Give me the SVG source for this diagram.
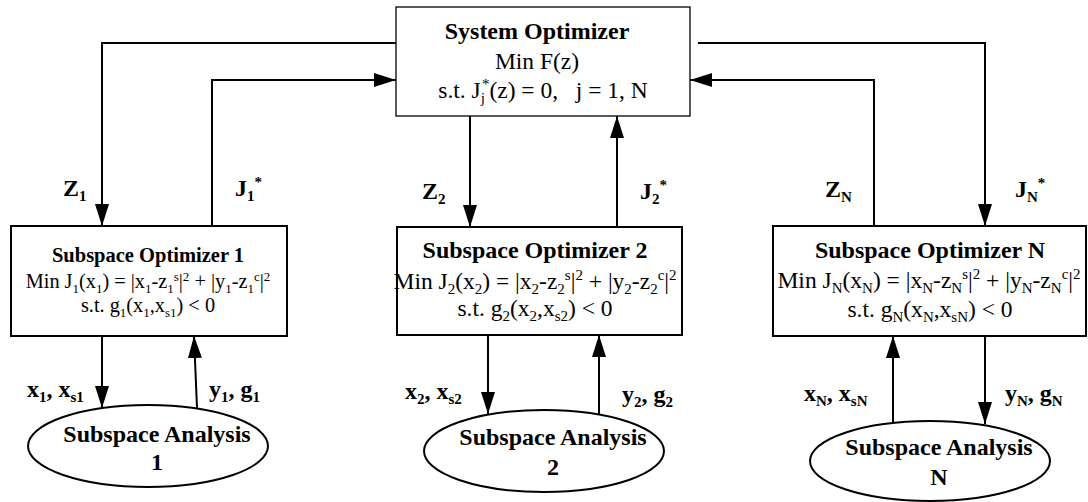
<svg xmlns="http://www.w3.org/2000/svg" width="1088" height="502" viewBox="0 0 1088 502" font-family="'Liberation Serif', 'Times New Roman', serif">
  <style>
    .box { fill: #fff; stroke: #000; stroke-width: 2; }
    .sys { fill: #fff; stroke: #000; stroke-width: 1.3; }
    .ell { fill: #fff; stroke: #000; stroke-width: 2; }
    .wire { fill: none; stroke: #000; stroke-width: 2; marker-end: url(#arrow); }
    text { font-family: "Liberation Serif", "Times New Roman", serif; fill: #000; }
    .r { font-size: 23.5px; }
    .r1 { font-size: 20.3px; }
    .b { font-size: 24px; font-weight: bold; }
    .b1 { font-size: 20.5px; font-weight: bold; }
    .lbl { font-size: 24px; font-weight: bold; }
    .s { font-size: 15px; }
    .s1 { font-size: 13px; }
  </style>
  <defs>
    <marker id="arrow" markerUnits="userSpaceOnUse" markerWidth="22" markerHeight="14" refX="22" refY="7" orient="auto">
      <path d="M0,0 L22,7 L0,14 Z" fill="#000"/>
    </marker>
  </defs>

  <!-- connectors -->
  <g id="connectors">
    <polyline class="wire" points="396,43 102,43 102,226"/>
    <polyline class="wire" points="212,226 212,80 396,80"/>
    <line class="wire" x1="470" y1="116" x2="470" y2="227"/>
    <line class="wire" x1="617" y1="227" x2="617" y2="116"/>
    <polyline class="wire" points="698,43 985,43 985,226"/>
    <polyline class="wire" points="874,226 874,80 690,80"/>

    <line class="wire" x1="102" y1="336" x2="102" y2="408"/>
    <line class="wire" x1="197" y1="408" x2="194" y2="336"/>
    <line class="wire" x1="488" y1="335" x2="488" y2="414"/>
    <line class="wire" x1="599" y1="414" x2="599" y2="335"/>
    <line class="wire" x1="893" y1="423" x2="893" y2="336"/>
    <line class="wire" x1="985" y1="336" x2="985" y2="424"/>
  </g>

  <!-- system level -->
  <g id="system-optimizer">
    <rect class="sys" x="396" y="7" width="294" height="109"/>
    <text class="b" x="537" y="39" text-anchor="middle">System Optimizer</text>
    <text class="r" x="537" y="69" text-anchor="middle">Min F(z)</text>
    <text class="r" x="543" y="98" text-anchor="middle" xml:space="preserve">s.t. J<tspan class="s" dy="5">j</tspan><tspan class="s" dx="-3" dy="-14">*</tspan><tspan dy="9">(z) = 0,   j = 1, N</tspan></text>
  </g>

  <!-- subspace optimizers -->
  <g id="subspace-optimizer-1">
    <rect class="box" x="11" y="226" width="276" height="110"/>
    <text class="b1" x="148" y="262" text-anchor="middle">Subspace Optimizer 1</text>
    <text class="r1" x="148" y="288" text-anchor="middle">Min J<tspan class="s1" dy="4.5">1</tspan><tspan dy="-4.5">(x</tspan><tspan class="s1" dy="4.5">1</tspan><tspan dy="-4.5">) = |x</tspan><tspan class="s1" dy="4.5">1</tspan><tspan dy="-4.5">-z</tspan><tspan class="s1" dy="4.5">1</tspan><tspan class="s1" dy="-12">s</tspan><tspan dy="7.5">|</tspan><tspan class="s1" dy="-7.5">2</tspan><tspan dy="7.5"> + |y</tspan><tspan class="s1" dy="4.5">1</tspan><tspan dy="-4.5">-z</tspan><tspan class="s1" dy="4.5">1</tspan><tspan class="s1" dy="-12">c</tspan><tspan dy="7.5">|</tspan><tspan class="s1" dy="-7.5">2</tspan></text>
    <text class="r1" x="148" y="312" text-anchor="middle">s.t. g<tspan class="s1" dy="4.5">1</tspan><tspan dy="-4.5">(x</tspan><tspan class="s1" dy="4.5">1</tspan><tspan dy="-4.5">,x</tspan><tspan class="s1" dy="4.5">s1</tspan><tspan dy="-4.5">) &lt; 0</tspan></text>
  </g>

  <g id="subspace-optimizer-2">
    <rect class="box" x="397" y="227" width="285" height="108"/>
    <text class="b" x="535" y="258" text-anchor="middle">Subspace Optimizer 2</text>
    <text class="r" x="535" y="289" text-anchor="middle">Min J<tspan class="s" dy="5">2</tspan><tspan dy="-5">(x</tspan><tspan class="s" dy="5">2</tspan><tspan dy="-5">) = |x</tspan><tspan class="s" dy="5">2</tspan><tspan dy="-5">-z</tspan><tspan class="s" dy="5">2</tspan><tspan class="s" dy="-14">s</tspan><tspan dy="9">|</tspan><tspan class="s" dy="-9">2</tspan><tspan dy="9"> + |y</tspan><tspan class="s" dy="5">2</tspan><tspan dy="-5">-z</tspan><tspan class="s" dy="5">2</tspan><tspan class="s" dy="-14">c</tspan><tspan dy="9">|</tspan><tspan class="s" dy="-9">2</tspan></text>
    <text class="r" x="535" y="316" text-anchor="middle">s.t. g<tspan class="s" dy="5">2</tspan><tspan dy="-5">(x</tspan><tspan class="s" dy="5">2</tspan><tspan dy="-5">,x</tspan><tspan class="s" dy="5">s2</tspan><tspan dy="-5">) &lt; 0</tspan></text>
  </g>

  <g id="subspace-optimizer-n">
    <rect class="box" x="773" y="226" width="313" height="110"/>
    <text class="b" x="930" y="258" text-anchor="middle">Subspace Optimizer N</text>
    <text class="r" x="929" y="288" text-anchor="middle">Min J<tspan class="s" dy="5">N</tspan><tspan dy="-5">(x</tspan><tspan class="s" dy="5">N</tspan><tspan dy="-5">) = |x</tspan><tspan class="s" dy="5">N</tspan><tspan dy="-5">-z</tspan><tspan class="s" dy="5">N</tspan><tspan class="s" dy="-14">s</tspan><tspan dy="9">|</tspan><tspan class="s" dy="-9">2</tspan><tspan dy="9"> + |y</tspan><tspan class="s" dy="5">N</tspan><tspan dy="-5">-z</tspan><tspan class="s" dy="5">N</tspan><tspan class="s" dy="-14">c</tspan><tspan dy="9">|</tspan><tspan class="s" dy="-9">2</tspan></text>
    <text class="r" x="930" y="317" text-anchor="middle">s.t. g<tspan class="s" dy="5">N</tspan><tspan dy="-5">(x</tspan><tspan class="s" dy="5">N</tspan><tspan dy="-5">,x</tspan><tspan class="s" dy="5">sN</tspan><tspan dy="-5">) &lt; 0</tspan></text>
  </g>

  <!-- subspace analyses -->
  <g id="subspace-analysis-1">
    <ellipse class="ell" cx="148" cy="446" rx="120" ry="41"/>
    <text class="b" x="157" y="442" text-anchor="middle">Subspace Analysis</text>
    <text class="b" x="157" y="470" text-anchor="middle">1</text>
  </g>
  <g id="subspace-analysis-2">
    <ellipse class="ell" cx="544" cy="451" rx="120" ry="41"/>
    <text class="b" x="553" y="445" text-anchor="middle">Subspace Analysis</text>
    <text class="b" x="553" y="475" text-anchor="middle">2</text>
  </g>
  <g id="subspace-analysis-n">
    <ellipse class="ell" cx="930" cy="461" rx="120" ry="40"/>
    <text class="b" x="939" y="455" text-anchor="middle">Subspace Analysis</text>
    <text class="b" x="939" y="485" text-anchor="middle">N</text>
  </g>

  <!-- connector labels -->
  <g id="labels">
    <text class="lbl" x="63" y="196">Z<tspan class="s" dy="5">1</tspan></text>
    <text class="lbl" x="235" y="196">J<tspan class="s" dy="5">1</tspan><tspan class="s" dy="-14">*</tspan></text>
    <text class="lbl" x="422" y="199">Z<tspan class="s" dy="5">2</tspan></text>
    <text class="lbl" x="640" y="199">J<tspan class="s" dy="5">2</tspan><tspan class="s" dy="-14">*</tspan></text>
    <text class="lbl" x="825" y="197">Z<tspan class="s" dy="5">N</tspan></text>
    <text class="lbl" x="1015" y="197">J<tspan class="s" dy="5">N</tspan><tspan class="s" dy="-14">*</tspan></text>

    <text class="lbl" x="27" y="397">x<tspan class="s" dy="5">1</tspan><tspan dy="-5">, x</tspan><tspan class="s" dy="5">s1</tspan></text>
    <text class="lbl" x="209" y="397">y<tspan class="s" dy="5">1</tspan><tspan dy="-5">, g</tspan><tspan class="s" dy="5">1</tspan></text>
    <text class="lbl" x="405" y="399">x<tspan class="s" dy="5">2</tspan><tspan dy="-5">, x</tspan><tspan class="s" dy="5">s2</tspan></text>
    <text class="lbl" x="622" y="402">y<tspan class="s" dy="5">2</tspan><tspan dy="-5">, g</tspan><tspan class="s" dy="5">2</tspan></text>
    <text class="lbl" x="804" y="401">x<tspan class="s" dy="5">N</tspan><tspan dy="-5">, x</tspan><tspan class="s" dy="5">sN</tspan></text>
    <text class="lbl" x="1005" y="401">y<tspan class="s" dy="5">N</tspan><tspan dy="-5">, g</tspan><tspan class="s" dy="5">N</tspan></text>
  </g>
</svg>
